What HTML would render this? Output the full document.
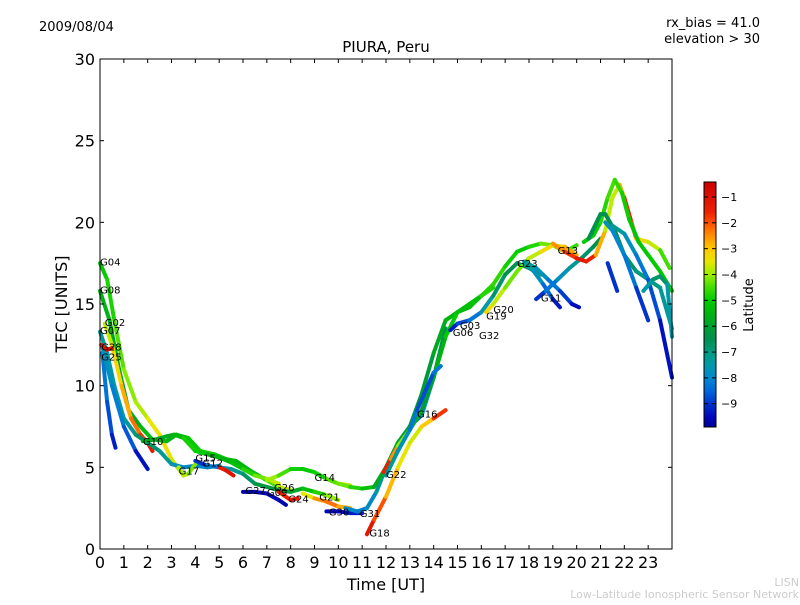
<!DOCTYPE html>
<html><head><meta charset="utf-8"><style>
body{margin:0;background:#fff;}
svg text{font-family:"DejaVu Sans","Liberation Sans",sans-serif;}
</style></head><body>
<svg id="chart" width="800" height="600" xmlns="http://www.w3.org/2000/svg">
<defs><linearGradient id="cmap" x1="0" y1="0" x2="0" y2="1"></linearGradient></defs>
<rect x="0" y="0" width="800" height="600" fill="#fff"/>
<text x="39" y="31" font-size="13">2009/08/04</text>
<text x="760" y="27" font-size="13" text-anchor="end">rx_bias = 41.0</text>
<text x="760" y="43" font-size="13" text-anchor="end">elevation &gt; 30</text>
<text x="386" y="52" font-size="15" text-anchor="middle">PIURA, Peru</text>
<g id="plot"></g>
<g id="axes"></g>
<text x="386" y="590" font-size="16" text-anchor="middle">Time [UT]</text>
<text transform="translate(67,304) rotate(-90)" font-size="16" text-anchor="middle">TEC [UNITS]</text>
<rect x="704" y="182" width="12" height="245" fill="url(#cmap)" stroke="#000" stroke-width="1"/>
<g id="cbticks"></g>
<text transform="translate(753,305) rotate(-90)" font-size="13" text-anchor="middle">Latitude</text>
<text x="799" y="586" font-size="11" fill="#cccccc" text-anchor="end">LISN</text>
<text x="799" y="598" font-size="11" fill="#cccccc" text-anchor="end">Low-Latitude Ionospheric Sensor Network</text>
</svg>
<script>
const xTicks=[0,1,2,3,4,5,6,7,8,9,10,11,12,13,14,15,16,17,18,19,20,21,22,23];
const yTicks=[0,5,10,15,20,25,30];
const cbTicks=[-1,-2,-3,-4,-5,-6,-7,-8,-9];
const latMin=-9.9, latMax=-0.42;
const tracks=[
{t:[0,0.3,0.6,1.0,1.5,2.0,2.5,3.0,3.5],v:[17.5,16.5,14,11,9,8,7,5.5,4.5],lat:[-5,-5,-4.6,-4.2,-4,-3.7,-3.3,-3.5,-3.8]},
{t:[0,0.4,0.8,1.2,1.7,2.2,2.8,3.2,3.7,4.2,4.8,5.3,5.7,6.3,7,7.5,8],v:[15.8,14,11,8.5,7.5,6.7,6.6,7.0,6.8,6.0,5.8,5.5,5.4,4.8,4.2,3.8,3.6],lat:[-5.5,-5.6,-6,-6,-5.5,-5.2,-5.5,-5.5,-5.3,-4.8,-5,-5.3,-5.5,-5.5,-5,-4,-3.5]},
{t:[0.2,0.5,0.9,1.3,1.7,2.0,2.2],v:[13.8,12.5,10,8,7,6.5,6.0],lat:[-4,-3.5,-3,-2.5,-2,-1.5,-1]},
{t:[0,0.3,0.6,1,1.5,2,2.5,3,3.5,4,4.5,5],v:[13.3,12,10,8,7,6.5,6,5.2,5.0,5.1,5.0,5.1],lat:[-7,-7.5,-7.5,-7.5,-7,-6.5,-7,-7.5,-8,-8,-8,-7.5]},
{t:[0.1,0.3,0.5,0.65],v:[12,9,7,6.2],lat:[-8,-8.5,-9,-9.5]},
{t:[0.1,0.5,1,1.5,2.0],v:[12.4,10,7.5,6,4.9],lat:[-7.5,-8,-8.3,-9,-9.8]},
{t:[0.05,0.3,0.5],v:[12.5,12.2,12.3],lat:[-1,-1.2,-1]},
{t:[1.8,2.3,2.8,3.1,3.5,4,4.5,5.0,5.5,6,6.5,7,7.5],v:[6.6,6.7,6.9,7.0,6.8,6.0,5.8,5.6,5.3,4.9,4.5,4.3,4.0],lat:[-5.8,-5.8,-5.8,-5.6,-5.2,-4.5,-5.5,-5.5,-5.5,-5,-4.5,-4,-3.5]},
{t:[3.3,3.5,3.7,4.0],v:[5.0,4.5,4.6,5.2],lat:[-4,-3.8,-3.8,-4.5]},
{t:[4,4.5,5,5.5,6,6.5,7,7.5,8,8.5,9,9.5,10],v:[5.4,5.1,5,4.9,4.6,4.0,3.8,3.6,3.5,3.7,3.5,3.3,3.0],lat:[-9.5,-8.5,-8,-7.5,-7,-6.5,-6,-6.5,-6,-5.5,-5,-4.5,-3.5]},
{t:[5,5.3,5.6],v:[5,4.8,4.5],lat:[-1.5,-1.2,-1]},
{t:[6,6.5,7,7.5,7.8],v:[3.5,3.5,3.4,3.0,2.7],lat:[-9.5,-9.6,-9.5,-9.6,-9.8]},
{t:[7,7.5,8,8.5,9,9.5,10,10.5],v:[4.2,4.5,4.9,4.9,4.7,4.3,4.0,3.9],lat:[-3.8,-4.2,-4.8,-5,-5,-4.8,-4,-3.5]},
{t:[7.5,8,8.3],v:[3.5,3,3.1],lat:[-2,-1,-1.5]},
{t:[8.5,9,9.5,10,10.5],v:[3.4,3.1,2.9,2.6,2.5],lat:[-4,-3,-2,-2.5,-3]},
{t:[9.5,10,10.5,11],v:[2.3,2.3,2.2,2.2],lat:[-9.5,-9.5,-9.5,-9]},
{t:[10.3,10.8,11.2,11.6,12,12.5,13,13.5,14,14.5],v:[2.5,2.3,2.5,3.5,5,6.5,7.5,8.2,10.5,13.5],lat:[-8,-8,-8.3,-7.5,-7,-7,-8,-9,-6.5,-6.5]},
{t:[10,10.5,11,11.5,12,12.5,13,13.5,14,14.5,15,15.5,16,16.5,17,17.5,18,18.5,19,19.5,20],v:[4,3.8,3.7,3.8,5,6.5,7.5,9.5,12,14,14.5,14.8,15.5,16.2,17.3,18.2,18.5,18.7,18.6,18.2,18.6],lat:[-4,-4.5,-5,-5.5,-6,-6,-6,-6.2,-6,-5.5,-5.5,-5.5,-5,-4.5,-4.8,-5,-5,-4.5,-4,-4.2,-5]},
{t:[11.2,11.5,12,12.5,13,13.5,14,14.5],v:[0.9,1.8,3.2,5.0,6.5,7.5,8,8.5],lat:[-1,-1.5,-2.5,-3.2,-3.8,-3.5,-2.5,-1]},
{t:[11.9,12.2,12.5,13,13.5,14,14.5,15,15.5,16,16.5],v:[4.7,5.5,6.3,7.3,8.5,10.5,13,14.5,15,15.5,16],lat:[-1,-2,-3,-5,-6.2,-6,-5,-5,-5.5,-5,-4.5]},
{t:[12,12.5,13,13.3,13.6,14,14.3],v:[4.5,6.0,7.3,8.5,9.5,10.8,11.2],lat:[-7,-7.5,-8,-8.5,-9,-8.5,-8]},
{t:[14.7,15,15.5,16,16.5,17,17.5,18,18.5],v:[13.4,13.8,14.0,14.5,15.5,16.8,17.5,17.2,16.8],lat:[-9.5,-9,-8.5,-8,-7,-6.5,-6.5,-7,-7]},
{t:[16.2,16.5,17,17.5,18,18.5,19,19.5,20],v:[14.5,15,16,17,17.8,18.2,18.6,18.5,18.0],lat:[-3,-3.5,-4,-4.5,-4,-3.5,-3,-3.5,-2]},
{t:[17.8,18.2,18.6,19,19.3],v:[17.5,17,16.2,15.3,14.8],lat:[-7,-7.5,-8,-9,-9.6]},
{t:[17.8,18.3,18.8,19.3,19.8,20.1],v:[17.6,17.2,16.5,15.8,15.0,14.8],lat:[-7,-7.5,-8,-8.5,-9.3,-9.6]},
{t:[18.3,18.7,19.2,19.7,20.2,20.7,21],v:[15.3,15.8,16.5,17.2,17.8,18.5,19],lat:[-9.5,-8.5,-8,-7.5,-7,-6.5,-6.5]},
{t:[19,19.5,20,20.4,20.8,21.2,21.5,21.8,22,22.3,22.5,23,23.5,23.9],v:[18.7,18.2,17.8,17.6,18,19.5,21.5,22.3,21.5,20,19,18.8,18.3,17.2],lat:[-3,-2,-1.5,-1,-2,-3.5,-4,-3.5,-2,-1,-3,-3.5,-4,-5]},
{t:[20.3,20.7,21,21.3,21.6,21.9,22.2,22.6,23,23.5,24],v:[18.8,19.2,20,21.5,22.6,21.8,20.2,18.8,18,17,15.8],lat:[-5,-5,-5,-4.5,-4.5,-4.8,-5,-5.2,-5,-5,-5.2]},
{t:[20.5,21,21.2,21.6,22,22.5,23,23.5,24],v:[19,20.5,20.5,19.5,18,17,16.5,16,13.5],lat:[-6.5,-6.5,-6.5,-6.5,-6.5,-7,-7,-7,-7.5]},
{t:[21.2,21.5,22,22.5,23],v:[20,19.5,18,16,14],lat:[-7.5,-8,-8,-8.5,-9.5]},
{t:[21.5,22,22.5,23,23.5,24],v:[19.8,19.3,18,16.5,14,10.5],lat:[-7,-7.5,-8,-8.5,-9,-9.8]},
{t:[21.3,21.7],v:[17.5,15.8],lat:[-8.5,-9.5]},
{t:[22.8,23.2,23.5,23.8,24],v:[15.8,16.5,16.7,16.2,13],lat:[-8,-7,-6.5,-7,-8]}
];
const labelNames=["G04","G08","G02","G07","G28","G25","G10","G15","G12","G17","G27","G09","G26","G14","G24","G21","G30","G31","G18","G22","G16","G06","G03","G32","G19","G20","G23","G13","G11"];
const labelT=[0,0,0.2,0,0.05,0.05,1.8,4.0,4.3,3.3,6.1,7.0,7.3,9.0,7.9,9.2,9.6,10.9,11.3,12.0,13.3,14.8,15.1,15.9,16.2,16.5,17.5,19.2,18.5];
const labelV=[17.6,15.9,13.9,13.4,12.4,11.8,6.6,5.6,5.3,4.8,3.6,3.5,3.8,4.4,3.1,3.2,2.3,2.2,1.0,4.6,8.3,13.3,13.7,13.1,14.3,14.7,17.5,18.3,15.4];
const cmapLat=[-0.42,-1,-1.6,-2,-2.5,-3,-3.5,-4,-4.5,-5,-5.5,-6,-6.5,-7,-7.5,-8,-8.5,-9,-9.5,-9.9];
const cmapCol=["#cc0000","#dd1100","#ee2200","#ff5000","#ff9000","#ffc800","#e6e600","#99ee00","#44dd00","#00cc00","#00b410","#00a030","#009050","#009a80","#0099aa","#0088cc","#0066dd","#0033cc","#0008bb","#00009a"];
const NS="http://www.w3.org/2000/svg";
const X0=100,X1=672,Y0=549,Y1=59;
function xs(t){return X0+t*(X1-X0)/24;}
function ys(v){return Y0-v*(Y0-Y1)/30;}
function hex(h){return [1,3,5].map(i=>parseInt(h.substr(i,2),16));}
function cmap(lat){
 if(lat>=cmapLat[0])return cmapCol[0];
 for(let i=0;i<cmapLat.length-1;i++){
  if(lat<=cmapLat[i]&&lat>=cmapLat[i+1]){
   const f=(cmapLat[i]-lat)/(cmapLat[i]-cmapLat[i+1]);
   const a=hex(cmapCol[i]),b=hex(cmapCol[i+1]);
   return 'rgb('+a.map((v,k)=>Math.round(v+(b[k]-v)*f)).join(',')+')';
  }
 }
 return cmapCol[cmapCol.length-1];
}
function mk(tag,attrs,parent){const e=document.createElementNS(NS,tag);for(const k in attrs)e.setAttribute(k,attrs[k]);parent.appendChild(e);return e;}
const grad=document.getElementById('cmap');
cmapLat.forEach((l,i)=>{mk('stop',{offset:(latMax-l)/(latMax-latMin),'stop-color':cmapCol[i]},grad);});
const plot=document.getElementById('plot');
mk('rect',{x:X0,y:Y1,width:X1-X0,height:Y0-Y1,fill:'#fff'},plot);
tracks.forEach((tr,i)=>{
 const g=mk('g',{},plot);
 
 
 for(let j=0;j<tr.t.length-1;j++){
  const l=mk('line',{x1:xs(tr.t[j]),y1:ys(tr.v[j]),x2:xs(tr.t[j+1]),y2:ys(tr.v[j+1]),stroke:cmap((tr.lat[j]+tr.lat[j+1])/2),'stroke-width':4,'stroke-linecap':'round'},g);
  
  
 }
});
labelNames.forEach((n,i)=>{
 const t=mk('text',{x:xs(labelT[i]),y:ys(labelV[i])+4,'font-size':10},plot);
 t.textContent=n;
 
 
});
const axes=document.getElementById('axes');
const frame=mk('rect',{x:X0,y:Y1,width:X1-X0,height:Y0-Y1,fill:'none',stroke:'#000','stroke-width':1},axes);


xTicks.forEach(v=>{const x=xs(v);
 mk('line',{x1:x,y1:Y0,x2:x,y2:Y0-4,stroke:'#000'},axes);
 mk('line',{x1:x,y1:Y1,x2:x,y2:Y1+4,stroke:'#000'},axes);
 const t=mk('text',{x:x,y:568,'font-size':16,'text-anchor':'middle'},axes);t.textContent=v;
 
 
});
yTicks.forEach(v=>{const y=ys(v);
 mk('line',{x1:X0,y1:y,x2:X0+4,y2:y,stroke:'#000'},axes);
 mk('line',{x1:X1,y1:y,x2:X1-4,y2:y,stroke:'#000'},axes);
 const t=mk('text',{x:95,y:y+6,'font-size':16,'text-anchor':'end'},axes);t.textContent=v;
 
 
});
const cb=document.getElementById('cbticks');
cbTicks.forEach(v=>{const y=182+(latMax-v)/(latMax-latMin)*245;
 mk('line',{x1:716,y1:y,x2:712,y2:y,stroke:'#000'},cb);
 mk('line',{x1:704,y1:y,x2:708,y2:y,stroke:'#000'},cb);
 const t=mk('text',{x:721,y:y+4,'font-size':11},cb);t.textContent='\u2212'+(-v);
 
 
});
</script>
</body></html>
